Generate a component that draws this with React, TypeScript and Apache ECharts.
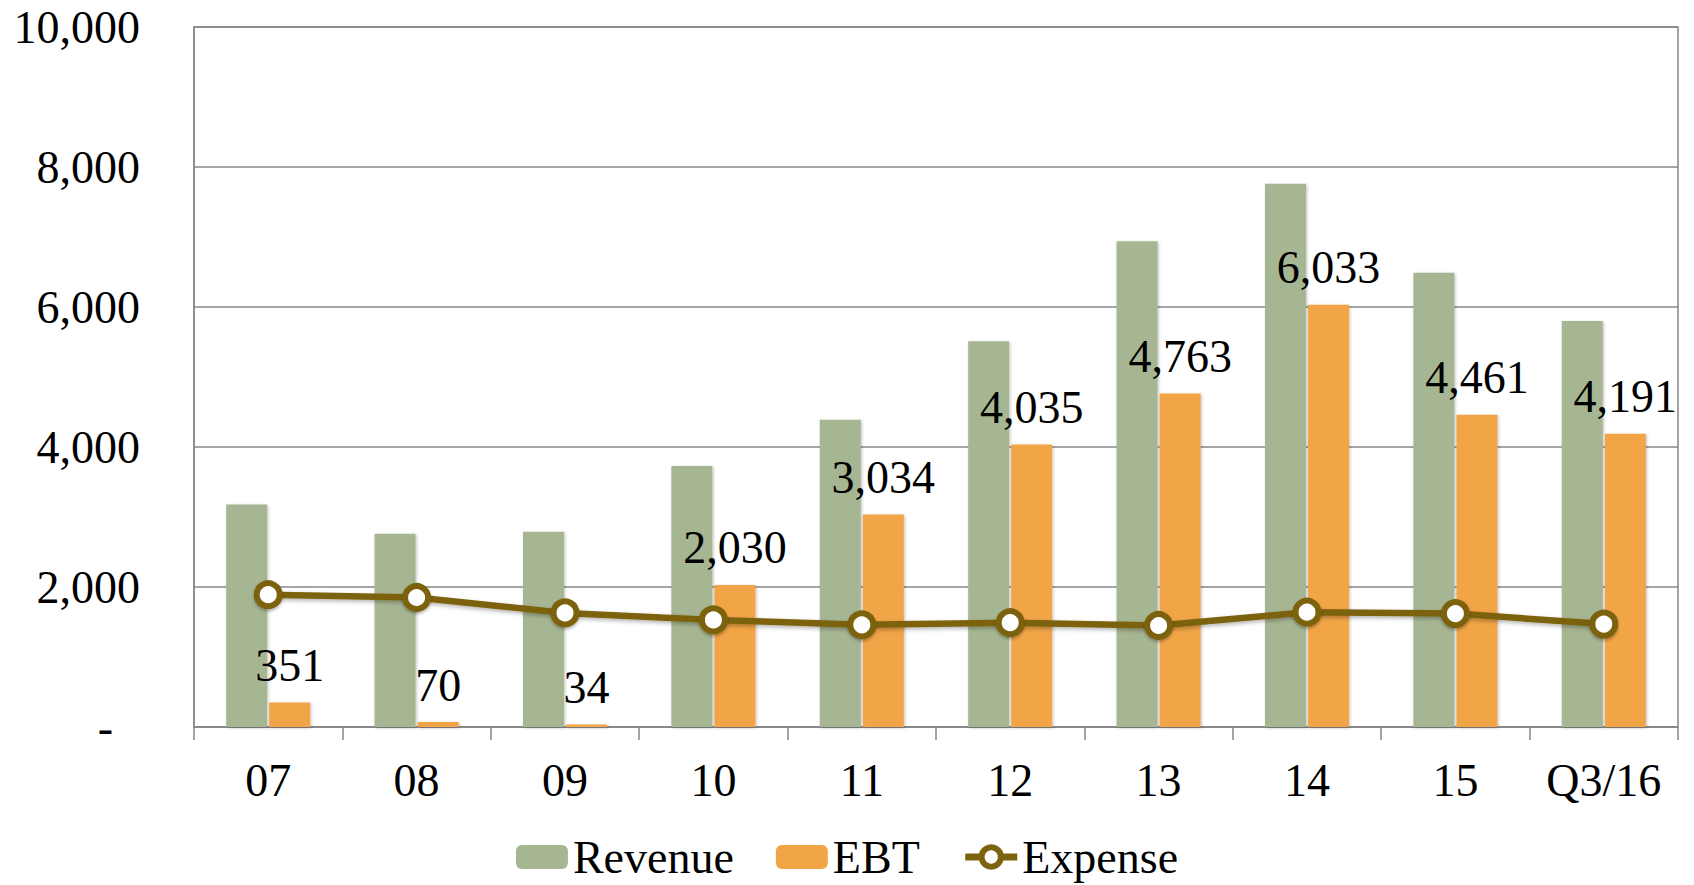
import React, { useEffect, useRef } from "react";
import * as echarts from "echarts";

const categories = ["07", "08", "09", "10", "11", "12", "13", "14", "15", "Q3/16"];
const revenue = [3180, 2760, 2790, 3730, 4390, 5510, 6940, 7760, 6490, 5800];
const ebt = [351, 70, 34, 2030, 3034, 4035, 4763, 6033, 4461, 4191];
const expense = [1890, 1850, 1630, 1530, 1460, 1490, 1450, 1640, 1620, 1470];
const yTicks = { min: 0, max: 10000, interval: 2000 };

const FONT = "'Liberation Serif', 'Times New Roman', serif";
const GRAY = "#878787";
const BROWN = "#7D6210";

const fmt = (v: number) => v.toLocaleString("en-US");

export default function App() {
  const ref = useRef<HTMLDivElement>(null);
  useEffect(() => {
    if (!ref.current) return;
    const chart = echarts.init(ref.current, undefined, { renderer: "svg" });
    chart.setOption({
      animation: false,
      backgroundColor: "#ffffff",
      textStyle: { fontFamily: FONT },
      grid: {
        left: 194,
        right: 16,
        top: 27,
        bottom: 158,
        show: true,
        borderColor: GRAY,
        borderWidth: 1.5,
        backgroundColor: "transparent",
      },
      legend: {
        left: "center",
        top: 829,
        itemWidth: 52,
        itemHeight: 24,
        itemGap: 42,
        textStyle: { fontFamily: FONT, fontSize: 46, color: "#000" },
        data: [
          { name: "Revenue", itemStyle: { shadowBlur: 0, shadowOffsetX: 0, shadowOffsetY: 0 } },
          { name: "EBT", itemStyle: { shadowBlur: 0, shadowOffsetX: 0, shadowOffsetY: 0 } },
          {
            name: "Expense",
            lineStyle: { width: 7, shadowBlur: 0, shadowOffsetY: 0 },
            itemStyle: { borderWidth: 6, color: "#fff", borderColor: BROWN },
          },
        ],
      },
      xAxis: {
        type: "category",
        data: categories,
        axisLine: { show: true, lineStyle: { color: GRAY, width: 1.5 } },
        axisTick: { show: true, interval: 0, length: 13, lineStyle: { color: GRAY, width: 1.5 } },
        axisLabel: { interval: 0, fontFamily: FONT, fontSize: 46, color: "#000", margin: 30 },
      },
      yAxis: {
        type: "value",
        min: yTicks.min,
        max: yTicks.max,
        interval: yTicks.interval,
        axisLine: { show: true, lineStyle: { color: GRAY, width: 1.5 } },
        axisTick: { show: false },
        splitLine: { show: true, lineStyle: { color: GRAY, width: 1.5 } },
        axisLabel: {
          fontFamily: FONT,
          fontSize: 46,
          color: "#000",
          margin: 54,
          formatter: (v: number) => (v === 0 ? "{d|-}" : fmt(v)),
          rich: {
            d: { fontFamily: FONT, fontSize: 46, color: "#000", padding: [0, 27, 0, 0] },
          },
        },
      },
      series: [
        {
          name: "Revenue",
          type: "bar",
          data: revenue,
          barWidth: 41,
          barGap: "5%",
          itemStyle: {
            color: "#A7B692",
            shadowColor: "rgba(0,0,0,0.25)",
            shadowBlur: 3,
            shadowOffsetX: 1,
            shadowOffsetY: 1,
          },
        },
        {
          name: "EBT",
          type: "bar",
          data: ebt,
          barWidth: 41,
          barGap: "5%",
          itemStyle: {
            color: "#F2A547",
            shadowColor: "rgba(0,0,0,0.25)",
            shadowBlur: 3,
            shadowOffsetX: 1,
            shadowOffsetY: 1,
          },
          label: {
            show: true,
            position: "top",
            distance: 14,
            fontFamily: FONT,
            fontSize: 46,
            color: "#000",
            formatter: (p: any) => fmt(p.value),
          },
          z: 3,
        },
        {
          name: "Expense",
          type: "line",
          data: expense,
          symbol: "circle",
          symbolSize: 23,
          showAllSymbol: true,
          lineStyle: {
            color: BROWN,
            width: 6.5,
            shadowColor: "rgba(0,0,0,0.3)",
            shadowBlur: 4,
            shadowOffsetY: 2,
          },
          itemStyle: {
            color: "#ffffff",
            borderColor: BROWN,
            borderWidth: 6,
            shadowColor: "rgba(0,0,0,0.3)",
            shadowBlur: 3,
            shadowOffsetY: 2,
          },
          z: 5,
        },
      ],
    });
    return () => chart.dispose();
  }, []);
  return (
    <div
      ref={ref}
      style={{ position: "absolute", left: 0, top: 0, width: 1694, height: 885 }}
    />
  );
}
